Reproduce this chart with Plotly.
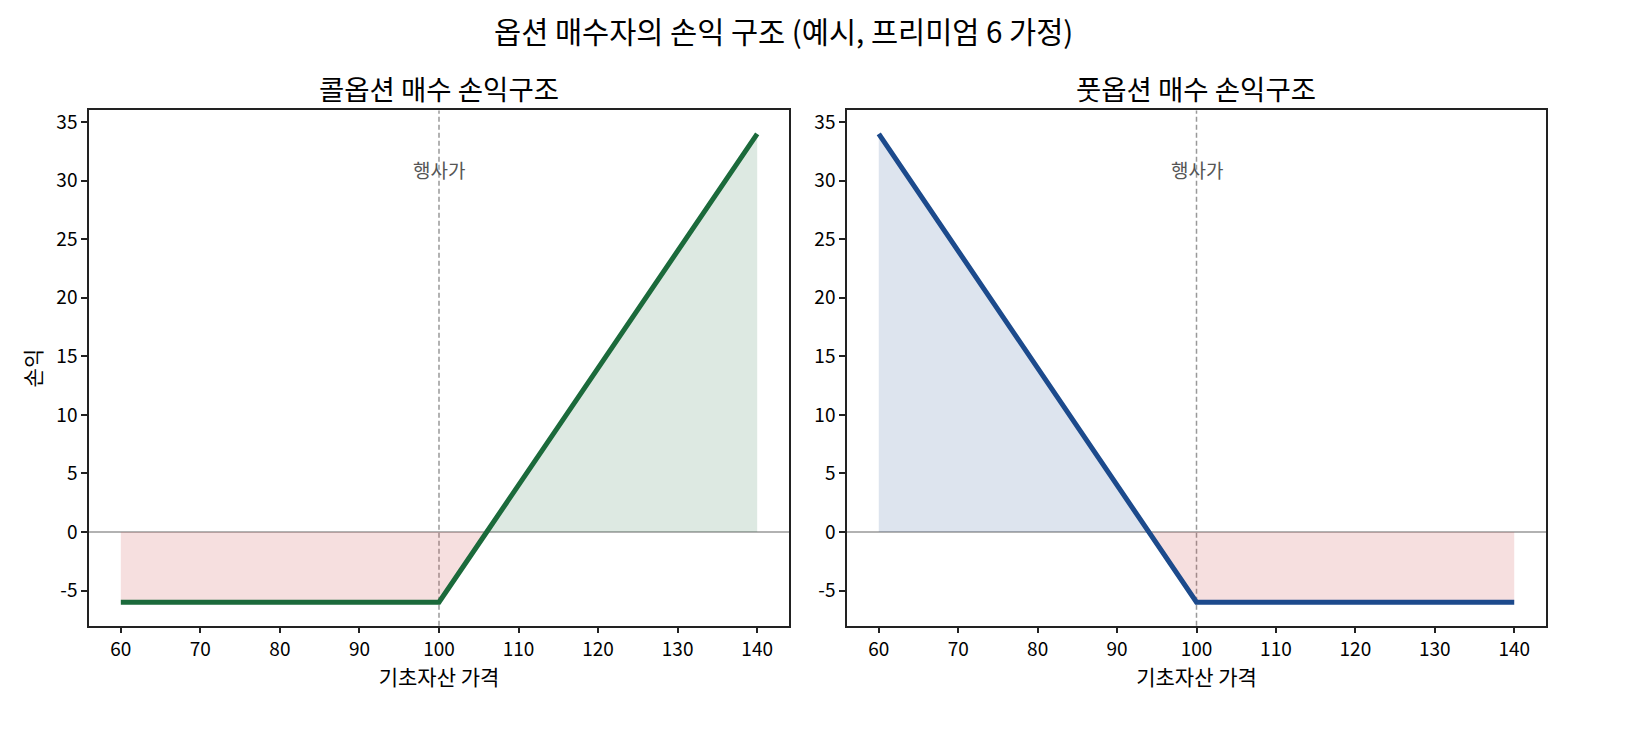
import plotly.graph_objects as go

# Data: underlying price points and P&L (strike 100, premium 6)
strike = 100
prices = [60, 100, 106, 140]
call_pnl = [-6, -6, 0, 34]
put_prices = [60, 94, 100, 140]
put_pnl = [34, 0, -6, -6]

x_ticks = [60, 70, 80, 90, 100, 110, 120, 130, 140]
y_ticks = [-5, 0, 5, 10, 15, 20, 25, 30, 35]
y_tick_text = ['-5', '0', '5', '10', '15', '20', '25', '30', '35']

font_name = "Noto Sans CJK KR"
green = '#1b6a3b'
blue = '#1c4a8c'
loss_fill = 'rgba(205, 80, 80, 0.18)'
green_fill = 'rgba(27, 106, 59, 0.15)'
blue_fill = 'rgba(28, 74, 140, 0.15)'

# page body has an 8px margin, so lay out in a slightly smaller figure
W, H, OFF = 1634, 734, 8


def px_x(p):
    return (p - OFF) / W


def px_y(p):
    return 1 - (p - OFF) / H


fig = go.Figure()

# Left: call option
fig.add_trace(go.Scatter(x=prices[:3], y=call_pnl[:3], fill='tozeroy', fillcolor=loss_fill,
                         mode='lines', line=dict(width=0), xaxis='x', yaxis='y', hoverinfo='skip'))
fig.add_trace(go.Scatter(x=prices[2:], y=call_pnl[2:], fill='tozeroy', fillcolor=green_fill,
                         mode='lines', line=dict(width=0), xaxis='x', yaxis='y', hoverinfo='skip'))
fig.add_trace(go.Scatter(x=prices, y=call_pnl, mode='lines', line=dict(color=green, width=5),
                         xaxis='x', yaxis='y'))

# Right: put option
fig.add_trace(go.Scatter(x=put_prices[:2], y=put_pnl[:2], fill='tozeroy', fillcolor=blue_fill,
                         mode='lines', line=dict(width=0), xaxis='x2', yaxis='y2', hoverinfo='skip'))
fig.add_trace(go.Scatter(x=put_prices[1:], y=put_pnl[1:], fill='tozeroy', fillcolor=loss_fill,
                         mode='lines', line=dict(width=0), xaxis='x2', yaxis='y2', hoverinfo='skip'))
fig.add_trace(go.Scatter(x=put_prices, y=put_pnl, mode='lines', line=dict(color=blue, width=5),
                         xaxis='x2', yaxis='y2'))

axis_common = dict(showgrid=False, zeroline=False, showline=True, linecolor='#222222', linewidth=1.5,
                   mirror=True, ticks='outside', ticklen=6, tickwidth=1.5, tickcolor='#222222',
                   tickfont=dict(size=19, color='black'))

x_title = dict(text='기초자산 가격', font=dict(size=21), standoff=10)

fig.update_layout(
    width=W, height=H,
    margin=dict(l=0, r=0, t=0, b=0),
    plot_bgcolor='white', paper_bgcolor='white',
    font=dict(family=font_name, color='black'),
    showlegend=False,
    xaxis=dict(domain=[px_x(89), px_x(789)], range=[56, 144], tickvals=x_ticks, anchor='y',
               title=x_title, **axis_common),
    yaxis=dict(domain=[px_y(625), px_y(107)], range=[-8, 36], tickvals=y_ticks,
               ticktext=y_tick_text, anchor='x',
               title=dict(text='손익', font=dict(size=21), standoff=9), **axis_common),
    xaxis2=dict(domain=[px_x(847), px_x(1546)], range=[56, 144], tickvals=x_ticks, anchor='y2',
                title=x_title, **axis_common),
    yaxis2=dict(domain=[px_y(625), px_y(107)], range=[-8, 36], tickvals=y_ticks,
                ticktext=y_tick_text, anchor='x2', **axis_common),
)

# zero line and strike line on both panels
for xr, yr in [('x', 'y'), ('x2', 'y2')]:
    fig.add_shape(type='line', xref=f'{xr} domain', yref=yr, x0=0, x1=1, y0=0, y1=0,
                  line=dict(color='#999999', width=1.5), layer='below')
    fig.add_shape(type='line', xref=xr, yref=f'{yr} domain', x0=strike, x1=strike, y0=0, y1=1,
                  line=dict(color='#999999', width=1.5, dash='5px,3px'), layer='below')
    fig.add_annotation(x=strike, y=31, xref=xr, yref=yr, text='행사가', showarrow=False,
                       xanchor='center', yanchor='middle', font=dict(size=19, color='#555555'))

# titles
fig.add_annotation(text='옵션 매수자의 손익 구조 (예시, 프리미엄 6 가정)', x=px_x(783), y=px_y(26),
                   xref='paper', yref='paper', showarrow=False, xanchor='center', yanchor='middle',
                   font=dict(size=29.5))
fig.add_annotation(text='콜옵션 매수 손익구조', x=px_x(439), y=px_y(84),
                   xref='paper', yref='paper', showarrow=False, xanchor='center', yanchor='middle',
                   font=dict(size=27.5))
fig.add_annotation(text='풋옵션 매수 손익구조', x=px_x(1196), y=px_y(84),
                   xref='paper', yref='paper', showarrow=False, xanchor='center', yanchor='middle',
                   font=dict(size=27.5))

fig.write_html("out.html")
